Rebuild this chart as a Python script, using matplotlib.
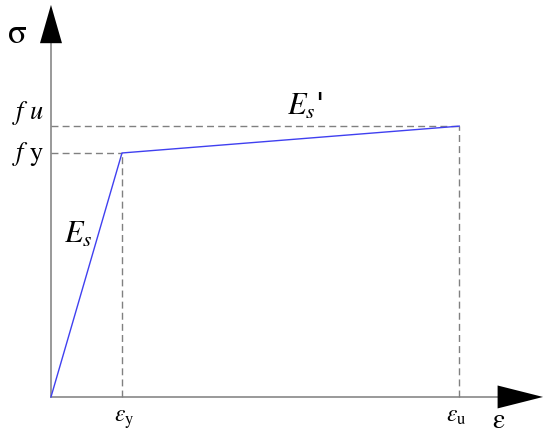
import numpy as np
import matplotlib.pyplot as plt

plt.rcParams['mathtext.fontset'] = 'stix'

# Curva bilineal del acero (deformación, tensión) en unidades relativas
eps = [0.0, 1.0, 5.75]      # 0, eps_y, eps_u
sig = [0.0, 1.0, 1.11]      # 0, f_y, f_u
eps_y, eps_u = eps[1], eps[2]
f_y, f_u = sig[1], sig[2]

fig = plt.figure(figsize=(5.5, 4.36), dpi=100)
ax = fig.add_axes([0, 0, 1, 1])
ax.set_xlim(-0.718, 7.028)
ax.set_ylim(-0.160, 1.627)
ax.axis('off')

# Ejes con flechas
ax.plot([0, 0], [0, 1.46], color='#999999', lw=1.4, zorder=1)
ax.plot([0, 6.30], [0, 0], color='#999999', lw=1.4, zorder=1)
ax.fill([-0.155, 0.155, 0], [1.45, 1.45, 1.607], color='black', lw=0)
ax.fill([6.29, 6.29, 6.93], [-0.047, 0.047, 0], color='black', lw=0)

# Líneas de referencia discontinuas
dash = dict(color='#808080', lw=1.0, ls=(0, (5, 3)), zorder=2)
ax.plot([0, eps_y], [f_y, f_y], **dash)
ax.plot([eps_y, eps_y], [0, f_y], **dash)
ax.plot([0, eps_u], [f_u, f_u], **dash)
ax.plot([eps_u, eps_u], [0, f_u], **dash)

# Curva
ax.plot(eps, sig, color='#4040f0', lw=1.0, zorder=3)

# Textos (posición izquierda / línea base)
kw = dict(ha='left', va='baseline')
ax.text(-0.60, 1.451, 'σ', fontsize=25, family='STIXGeneral', **kw)
ax.text(-0.55, 1.140, r'$f\ u$', fontsize=19, **kw)
ax.text(-0.55, 0.972, r'$f\ \mathrm{y}$', fontsize=19, **kw)
ax.text(0.19, 0.631, r'$E_s$', fontsize=22, **kw)
ax.text(3.32, 1.156, r"$E_s$'", fontsize=22, **kw)
ax.text(0.89, -0.102, r'$\varepsilon_\mathrm{y}$', fontsize=17, **kw)
ax.text(5.57, -0.102, r'$\varepsilon_\mathrm{u}$', fontsize=17, **kw)
ax.text(6.22, -0.153, 'ε', fontsize=20, family='STIXGeneral',
        ha='left', va='bottom')

fig.savefig('out.png', dpi=100)
